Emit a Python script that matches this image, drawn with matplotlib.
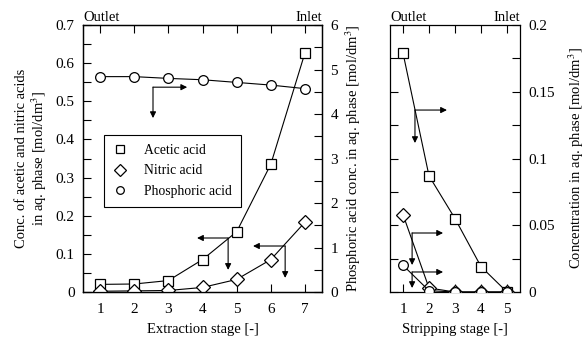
import matplotlib
matplotlib.use("Agg")
import matplotlib.pyplot as plt
from matplotlib.lines import Line2D
from matplotlib.ticker import MultipleLocator, FuncFormatter

plt.rcParams['font.family'] = ['Liberation Serif', 'DejaVu Serif']
plt.rcParams['mathtext.fontset'] = 'stix'

# Extraction data
ext_stage = [1, 2, 3, 4, 5, 6, 7]
ext_acetic = [0.020, 0.021, 0.030, 0.085, 0.158, 0.335, 0.627]
ext_nitric = [0.002, 0.003, 0.004, 0.012, 0.033, 0.085, 0.183]
ext_phosphoric = [4.84, 4.84, 4.80, 4.77, 4.71, 4.65, 4.57]

# Stripping data
str_stage = [1, 2, 3, 4, 5]
str_acetic = [0.179, 0.087, 0.055, 0.019, 0.0]
str_nitric = [0.058, 0.003, 0.0, 0.0, 0.0]
str_phosphoric = [0.020, 0.001, 0.0, 0.0, 0.0]

fig = plt.figure(figsize=(5.87, 3.37), dpi=100)
ax1 = fig.add_axes([0.1414, 0.1335, 0.4072, 0.7923])
ax1b = ax1.twinx()
ax2 = fig.add_axes([0.6644, 0.1335, 0.2215, 0.7923])

lw = 0.8
mk = dict(color='black', lw=lw, markerfacecolor='white', markeredgecolor='black', markeredgewidth=0.9)

ax1.plot(ext_stage, ext_acetic, marker='s', ms=7, zorder=3, **mk)
ax1.plot(ext_stage, ext_nitric, marker='D', ms=7, zorder=3, **mk)
ax1b.plot(ext_stage, ext_phosphoric, marker='o', ms=7, zorder=3, **mk)

ax2.plot(str_stage, str_acetic, marker='s', ms=7, zorder=3, **mk)
ax2.plot(str_stage, str_nitric, marker='D', ms=7, zorder=3, **mk)
ax2.plot(str_stage, str_phosphoric, marker='o', ms=7, zorder=3, **mk)

fmt = FuncFormatter(lambda v, p: '0' if abs(v) < 1e-9 else f'{v:g}')

ax1.set_xlim(0.5, 7.5)
ax1.set_ylim(0, 0.7)
ax1.set_xticks(ext_stage)
ax1.yaxis.set_major_locator(MultipleLocator(0.1))
ax1.yaxis.set_minor_locator(MultipleLocator(0.05))
ax1.yaxis.set_major_formatter(fmt)
ax1b.set_ylim(0, 6)
ax1b.yaxis.set_major_locator(MultipleLocator(1))
ax1b.yaxis.set_minor_locator(MultipleLocator(0.5))
ax1b.yaxis.set_major_formatter(fmt)

ax2.set_xlim(0.5, 5.5)
ax2.set_ylim(0, 0.2)
ax2.set_xticks(str_stage)
ax2.yaxis.set_major_locator(MultipleLocator(0.05))
ax2.yaxis.set_minor_locator(MultipleLocator(0.025))
ax2.yaxis.set_major_formatter(fmt)
ax2.yaxis.tick_right()
ax2.yaxis.set_label_position('right')

for a in (ax1, ax1b, ax2):
    a.tick_params(which='both', direction='in', length=5.5, width=0.8, labelsize=11, color='black', pad=6)
    for s in a.spines.values():
        s.set_linewidth(0.9)
ax1.tick_params(axis='x', which='both', top=True, pad=8)
ax1.tick_params(axis='y', which='both', right=False)
ax2.tick_params(axis='x', which='both', top=True, pad=8)
ax2.tick_params(axis='y', which='both', left=True, right=True, labelleft=False, labelright=True)

ax1.set_xlabel('Extraction stage [-]', fontsize=10.5, labelpad=5)
ax2.set_xlabel('Stripping stage [-]', fontsize=10.5, labelpad=5)
ax1.set_ylabel('Conc. of acetic and nitric acids\nin aq. phase [mol/dm$^3$]', fontsize=10.5, labelpad=5, linespacing=1.1)
ax1b.set_ylabel('Phosphoric acid conc. in aq. phase [mol/dm$^3$]', fontsize=10.5, labelpad=4)
ax2.set_ylabel('Concentration in aq. phase [mol/dm$^3$]', fontsize=10.5, labelpad=8)

for a in (ax1, ax2):
    a.text(0.0, 1.005, 'Outlet', transform=a.transAxes, ha='left', va='bottom', fontsize=10.5)
    a.text(1.0, 1.005, 'Inlet', transform=a.transAxes, ha='right', va='bottom', fontsize=10.5)

arrow = dict(arrowstyle='-|>', color='black', lw=0.8, mutation_scale=9, shrinkA=0, shrinkB=0)

def corner(ax, x, y, xh, yv):
    ax.annotate('', xy=(xh, y), xytext=(x, y), arrowprops=arrow)
    ax.annotate('', xy=(x, yv), xytext=(x, y), arrowprops=arrow)

corner(ax1, 2.55, 0.537, 3.55, 0.456)
corner(ax1, 4.75, 0.1416, 3.84, 0.058)
corner(ax1, 6.42, 0.1206, 5.48, 0.037)
corner(ax2, 1.46, 0.1363, 2.69, 0.1116)
corner(ax2, 1.35, 0.0442, 2.54, 0.0202)
corner(ax2, 1.35, 0.0150, 2.54, 0.0030)

handles = [
    Line2D([], [], ls='none', marker='s', ms=5.5, mfc='white', mec='black', mew=0.9, label='Acetic acid'),
    Line2D([], [], ls='none', marker='D', ms=6, mfc='white', mec='black', mew=0.9, label='Nitric acid'),
    Line2D([], [], ls='none', marker='o', ms=5.5, mfc='white', mec='black', mew=0.9, label='Phosphoric acid'),
]
leg = ax1.legend(handles=handles, loc='upper left', bbox_to_anchor=(0.088, 0.588), borderaxespad=0,
                 fancybox=False, edgecolor='black', framealpha=1, fontsize=9.8, handlelength=1.0,
                 handletextpad=1.3, labelspacing=0.55, borderpad=0.65)
leg.get_frame().set_linewidth(0.8)
leg.set_zorder(5)

fig.savefig('out.png', dpi=100)
